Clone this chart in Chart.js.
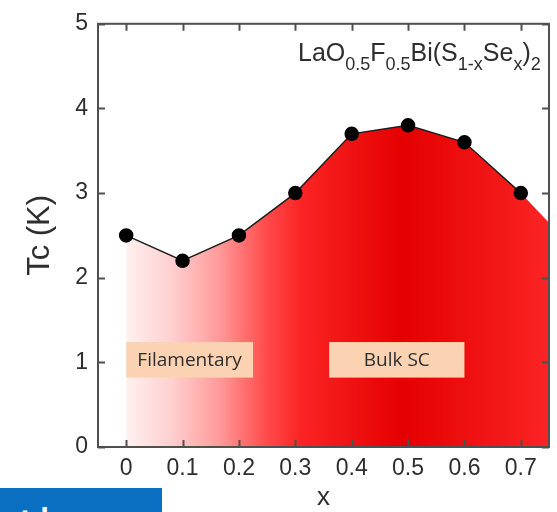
<!DOCTYPE html>
<html>
<head>
<meta charset="utf-8">
<script src="https://cdn.jsdelivr.net/npm/chart.js@4.4.1/dist/chart.umd.min.js"></script>
<style>
  body { margin: 0; background: #fff; }
  #wrap { position: relative; width: 557px; height: 512px; overflow: hidden; }
  .banner { position: absolute; left: 0; top: 488px; width: 162px; height: 24px; background: #0a6fc0; overflow: hidden; }
  .banner span { position: absolute; left: 17px; top: 19px; color: #fff; font: bold 30px "DejaVu Sans Mono", monospace; line-height: 30px; }
</style>
</head>
<body>
<div id="wrap">
  <canvas id="tc-chart" width="557" height="512"></canvas>
  <div class="banner"><span>ti</span></div>
</div>
<script>
// Tc vs Se content x
const xValues = [0, 0.1, 0.2, 0.3, 0.4, 0.5, 0.6, 0.7];
const tcValues = [2.5, 2.2, 2.5, 3.0, 3.7, 3.8, 3.6, 3.0];
// shaded region keeps going past the last point to the frame edge
const tailX = [0.75];
const tailY = [2.65];
const xTicks = [0, 0.1, 0.2, 0.3, 0.4, 0.5, 0.6, 0.7];
const yTicks = [0, 1, 2, 3, 4, 5];
const regionNames = ['Filamentary', 'Bulk SC'];
const regionFrom = [0, 0.36];
const regionTo = [0.225, 0.6];
const regionLow = [0.82, 0.82];
const regionHigh = [1.24, 1.24];

const FONT = '"Liberation Sans", Arial, sans-serif';
const FRAME = '#505050';

// red shade: pale at x=0, full red from ~0.3, darkest near 0.5
const shadeStops = [
    [0, '#fff0f0'], [0.08, '#ffd0d0'], [0.165, '#ff9a9a'], [0.25, '#ff4a4a'],
    [0.31, '#fb2424'], [0.49, '#e40000'], [0.75, '#fb2424']
];

function shadeFill(ctx) {
    const chart = ctx.chart;
    const xs = chart.scales.x;
    if (!chart.chartArea || !xs) return '#f00';
    const g = chart.ctx.createLinearGradient(xs.left, 0, xs.right, 0);
    shadeStops.forEach(([v, c]) => {
        const t = (xs.getPixelForValue(v) - xs.left) / (xs.right - xs.left);
        g.addColorStop(Math.min(1, Math.max(0, t)), c);
    });
    return g;
}

const frameTicks = {
    id: 'frameTicks',
    afterDraw(chart) {
        const { ctx, chartArea: a, scales } = chart;
        const xs = scales.x, ys = scales.y;

        // region labels
        ctx.save();
        regionNames.forEach((name, i) => {
            const l = xs.getPixelForValue(regionFrom[i]);
            const r = xs.getPixelForValue(regionTo[i]);
            const t = ys.getPixelForValue(regionHigh[i]);
            const b = ys.getPixelForValue(regionLow[i]);
            ctx.fillStyle = '#fbd3b2';
            ctx.fillRect(l, t, r - l, b - t);
            ctx.fillStyle = '#2e2e2e';
            ctx.font = '19px "Open Sans", sans-serif';
            ctx.textAlign = 'center';
            ctx.textBaseline = 'middle';
            ctx.fillText(name, (l + r) / 2, (t + b) / 2 + 1);
        });
        ctx.restore();

        // frame + inward ticks
        ctx.save();
        ctx.strokeStyle = FRAME;
        ctx.lineWidth = 2;
        ctx.strokeRect(a.left, a.top, a.right - a.left, a.bottom - a.top);
        ctx.beginPath();
        xTicks.forEach(v => {
            const px = Math.round(xs.getPixelForValue(v)) + 0.5;
            ctx.moveTo(px, a.bottom); ctx.lineTo(px, a.bottom - 7);
            ctx.moveTo(px, a.top); ctx.lineTo(px, a.top + 7);
        });
        yTicks.forEach(v => {
            const py = Math.round(ys.getPixelForValue(v)) + 0.5;
            ctx.moveTo(a.left, py); ctx.lineTo(a.left + 7, py);
            ctx.moveTo(a.right, py); ctx.lineTo(a.right - 7, py);
        });
        ctx.stroke();
        ctx.restore();

        // compound formula, top right
        ctx.save();
        ctx.fillStyle = '#2e2e2e';
        ctx.textBaseline = 'alphabetic';
        ctx.textAlign = 'left';
        const parts = [['LaO', 0], ['0.5', 1], ['F', 0], ['0.5', 1], ['Bi(S', 0], ['1-x', 1], ['Se', 0], ['x', 1], [')', 0], ['2', 1]];
        let x = 298;
        const base = 61;
        parts.forEach(([s, sub]) => {
            ctx.font = (sub ? '18px ' : '25px ') + FONT;
            ctx.fillText(s, x, sub ? base + 9 : base);
            x += ctx.measureText(s).width;
        });
        ctx.restore();
    }
};

new Chart(document.getElementById('tc-chart'), {
    type: 'line',
    data: {
        datasets: [
            {
                label: 'shade',
                data: xValues.concat(tailX).map((v, i) => ({ x: v, y: tcValues.concat(tailY)[i] })),
                fill: 'origin',
                backgroundColor: shadeFill,
                borderWidth: 0,
                pointRadius: 0,
                order: 2
            },
            {
                label: 'Tc',
                data: xValues.map((v, i) => ({ x: v, y: tcValues[i] })),
                fill: false,
                borderColor: '#1e1e1e',
                borderWidth: 1.5,
                pointRadius: 6.5,
                pointBackgroundColor: '#000',
                pointBorderColor: '#000',
                order: 1
            }
        ]
    },
    options: {
        responsive: false,
        animation: false,
        layout: { padding: { top: 19, right: 6, left: 0, bottom: 0 } },
        plugins: { legend: { display: false }, tooltip: { enabled: false } },
        scales: {
            x: {
                type: 'linear',
                min: -0.05,
                max: 0.75,
                afterBuildTicks: s => { s.ticks = xTicks.map(v => ({ value: v })); },
                afterFit: s => { s.height = 65; },
                grid: { display: false, drawTicks: false },
                border: { display: false },
                ticks: {
                    padding: 8,
                    color: '#2e2e2e',
                    font: { family: FONT, size: 23 },
                    callback: v => String(Math.round(v * 10) / 10)
                },
                title: {
                    display: true,
                    text: 'x',
                    color: '#2e2e2e',
                    font: { family: FONT, size: 26, lineHeight: 1 },
                    padding: { top: 0, bottom: 1 }
                }
            },
            y: {
                min: 0,
                max: 5,
                afterBuildTicks: s => { s.ticks = yTicks.map(v => ({ value: v })); },
                afterFit: s => { s.width = 98; },
                grid: { display: false, drawTicks: false },
                border: { display: false },
                ticks: {
                    padding: 10,
                    color: '#2e2e2e',
                    font: { family: FONT, size: 23 }
                },
                title: {
                    display: true,
                    text: 'Tc (K)',
                    color: '#2e2e2e',
                    font: { family: FONT, size: 31, lineHeight: 1 },
                    padding: { top: 25, bottom: 0 }
                }
            }
        }
    },
    plugins: [frameTicks]
});
</script>
</body>
</html>
